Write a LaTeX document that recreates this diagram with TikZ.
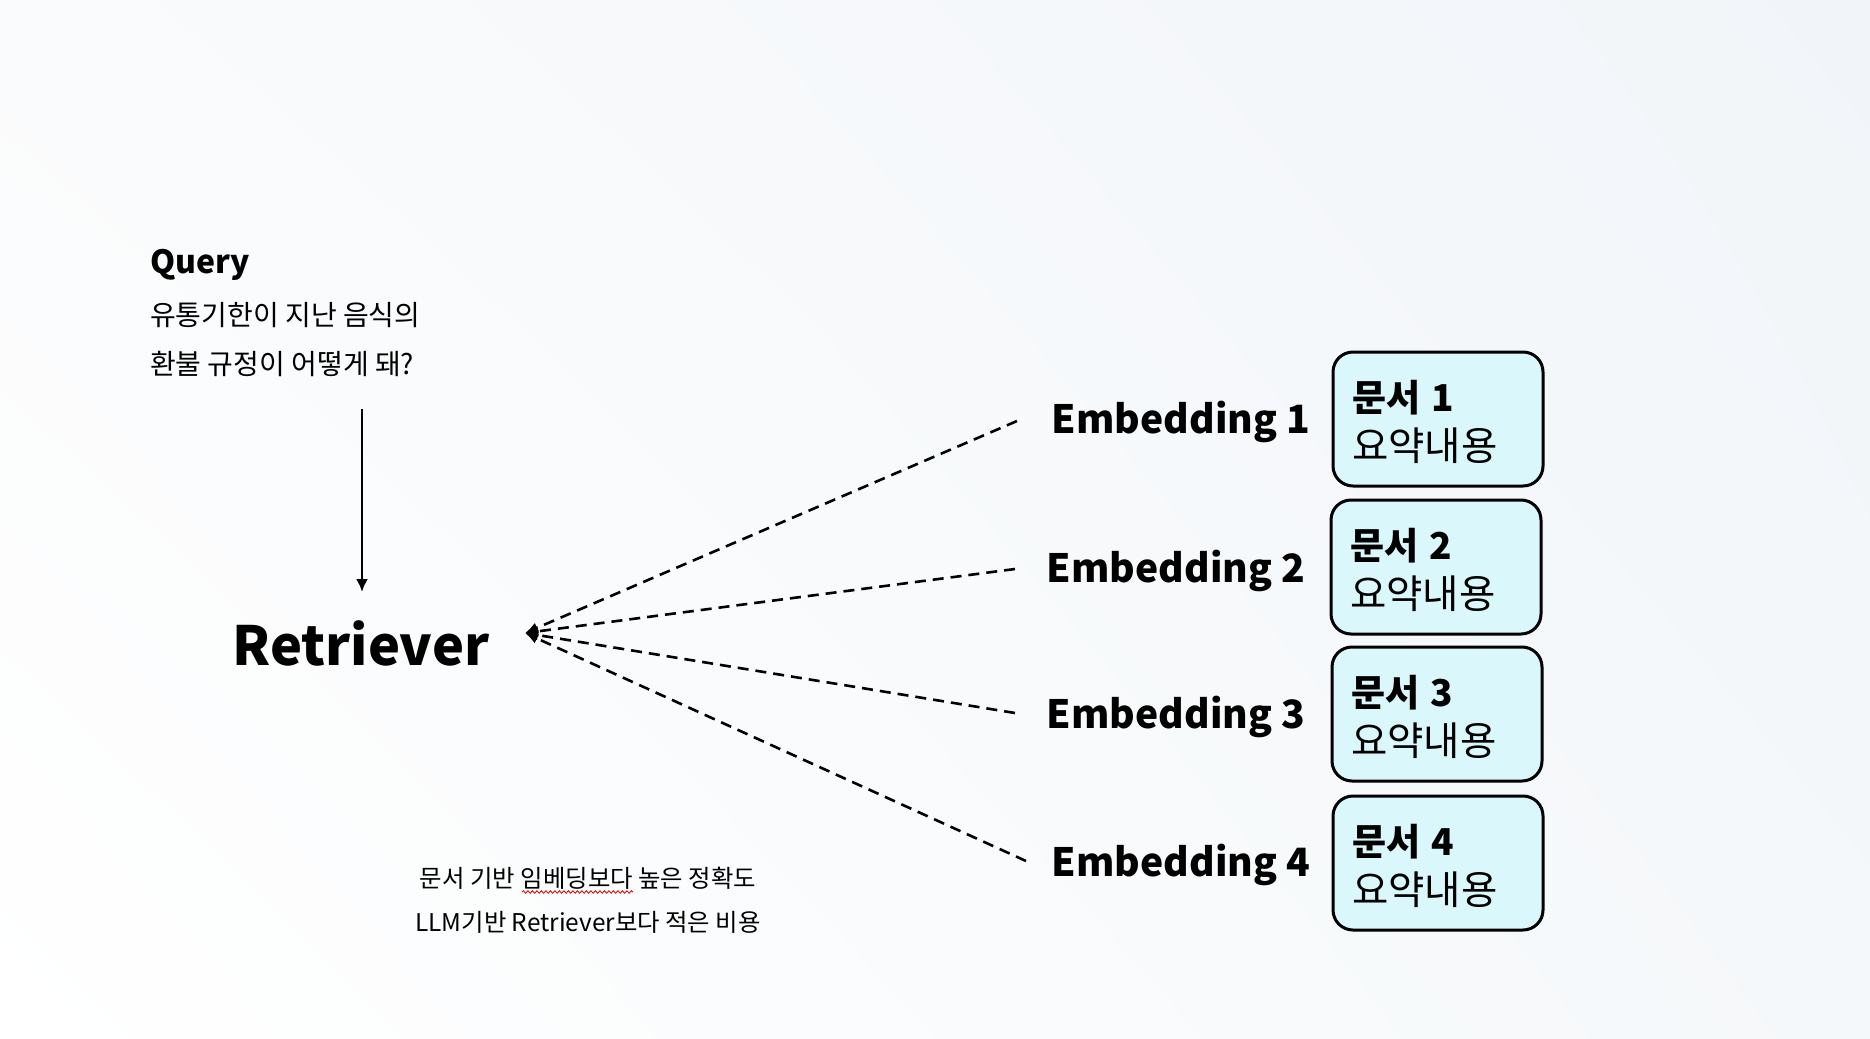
\documentclass[tikz,border=0pt]{standalone}
\usepackage{fontspec}
\setmainfont{Noto Sans CJK KR}
\usetikzlibrary{arrows.meta,decorations.pathmorphing,shadings}
\definecolor{boxfill}{HTML}{DAF7FC}
\definecolor{bgtr}{HTML}{F1F5F9}
\definecolor{bgtl}{HTML}{FAFBFC}
\definecolor{bgbr}{HTML}{F5F8FA}
\newcommand\doctitlefont{\bfseries\fontsize{37}{49}\selectfont}
\begin{document}
\begin{tikzpicture}[x=1pt,y=-1pt,
  qtext/.style={inner sep=0pt, anchor=west, font=\fontsize{28}{33}\selectfont},
  emb/.style={inner sep=0pt, font=\bfseries\fontsize{39}{47}\selectfont},
  doc/.style={draw=black, line width=3pt, fill=boxfill, rounded corners=20pt,
    minimum width=210pt, minimum height=134pt, inner sep=0pt},
  doctext/.style={inner sep=0pt, text width=172pt, align=left,
    font=\fontsize{39.5}{49}\selectfont},
  link/.style={line width=2.6pt, dash pattern=on 11pt off 7pt,
    -{Latex[length=13pt,width=11pt]}},
  note/.style={inner sep=0pt, font=\fontsize{24.4}{29}\selectfont},
]
\shade[upper left=bgtl, upper right=bgtr, lower left=white, lower right=bgbr]
  (0,0) rectangle (1870,1038);
\useasboundingbox (0,0) rectangle (1870,1038);

% query
\node[qtext, font=\bfseries\fontsize{32}{38}\selectfont] (qt) at (150,265) {Query};
\node[qtext] (q1) at (150,315) {유통기한이 지난 음식의};
\node[qtext] (q2) at (150,364) {환불 규정이 어떻게 돼?};

% retriever
\node[inner sep=0pt, font=\bfseries\fontsize{54}{64}\selectfont] (ret) at (361,643) {Retriever};
\coordinate (qa) at (362,409);
\coordinate (qb) at (362,592);
\draw[line width=2.4pt, -{Latex[length=13pt,width=12pt]}] (qa) -- (qb);

% hub
\coordinate (hub) at (525,633);

% embeddings
\node[emb] (e1) at (1181,422) {Embedding 1};
\node[emb] (e2) at (1176,571) {Embedding 2};
\node[emb] (e3) at (1176,717) {Embedding 3};
\node[emb] (e4) at (1181,865) {Embedding 4};
\coordinate (s1) at (1017,421);
\coordinate (s2) at (1015,569);
\coordinate (s3) at (1015,713);
\coordinate (s4) at (1026,861);
\draw[link] (s1) -- (hub);
\draw[link] (s2) -- (hub);
\draw[link] (s3) -- (hub);
\draw[link] (s4) -- (hub);

% documents
\node[doc] (d1) at (1438,419) {};
\node[doc] (d2) at (1436,567) {};
\node[doc] (d3) at (1437,714) {};
\node[doc] (d4) at (1438,863) {};
\node[doctext] (t1) at ([yshift=-3pt]d1.center) {{\doctitlefont 문서\hspace{0.3em}1}\\요약내용};
\node[doctext] (t2) at ([yshift=-3pt]d2.center) {{\doctitlefont 문서\hspace{0.3em}2}\\요약내용};
\node[doctext] (t3) at ([yshift=-3pt]d3.center) {{\doctitlefont 문서\hspace{0.3em}3}\\요약내용};
\node[doctext] (t4) at ([yshift=-3pt]d4.center) {{\doctitlefont 문서\hspace{0.3em}4}\\요약내용};

% notes
\node[note] (n1) at (588,878) {문서 기반 임베딩보다 높은 정확도};
\node[note] (n2) at (588,922) {LLM기반 Retriever보다 적은 비용};
\coordinate (w1) at (522,892);
\coordinate (w2) at (633,892);
\draw[red!85!black, line width=0.8pt, decorate,
  decoration={snake, amplitude=1.3pt, segment length=4.5pt}] (w1) -- (w2);
\end{tikzpicture}
\end{document}
